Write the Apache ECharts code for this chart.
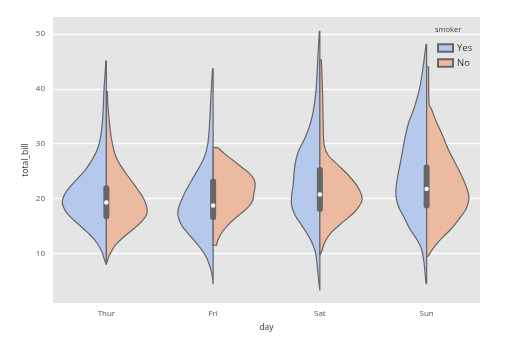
<!DOCTYPE html>
<html>
<head>
<meta charset="utf-8">
<script src="https://cdn.jsdelivr.net/npm/echarts@6/dist/echarts.min.js"></script>
<style>html,body{margin:0;padding:0;background:#fff}#c{width:506px;height:350px}</style>
</head>
<body>
<div id="c"></div>
<script>
// ---- data ----
var days = ['Thur', 'Fri', 'Sat', 'Sun'];
var hues = ['Yes', 'No'];
var yTicks = [10, 20, 30, 40, 50];

// violin half profiles: [total_bill, density as fraction of category width], top to bottom
var thurYes = [[45.1,0.005],[43,0.011],[40,0.022],[37,0.028],[34,0.037],[31,0.056],[29,0.084],[27.5,0.122],[26,0.169],[25,0.206],[24,0.253],[23,0.300],[22,0.347],[21,0.384],[20,0.408],[19.2,0.412],[18.5,0.403],[17.5,0.375],[16.5,0.328],[15.5,0.272],[14.5,0.215],[13.5,0.159],[12.5,0.112],[11.5,0.075],[10.5,0.047],[9.5,0.028],[8.5,0.011],[8.0,0]];
var thurNo = [[39.5,0.009],[37,0.014],[34,0.028],[31,0.047],[27.9,0.084],[26.1,0.131],[24.3,0.194],[21.8,0.288],[20,0.349],[18.2,0.381],[17,0.375],[15.75,0.328],[14.5,0.256],[13,0.162],[11.5,0.084],[10.3,0.047],[9.4,0.022],[8.45,0.007],[8.2,0]];
var friYes = [[43.7,0.005],[39.2,0.019],[33.1,0.035],[30,0.050],[27.6,0.081],[25.8,0.128],[24,0.181],[22.1,0.237],[20.3,0.284],[18.5,0.321],[17.3,0.331],[16,0.316],[14.8,0.284],[13,0.206],[11.2,0.128],[9.4,0.066],[7.5,0.028],[6,0.009],[4.5,0]];
var friNo = [[29.3,0.044],[28.2,0.106],[27,0.185],[25.8,0.262],[24.6,0.340],[23.35,0.387],[22.1,0.393],[20.9,0.381],[19.7,0.372],[18.5,0.331],[17.3,0.262],[16.05,0.185],[14.8,0.122],[13.6,0.075],[12.4,0.044],[11.5,0.031]];
var satYes = [[50.5,0.005],[45.6,0.019],[39.5,0.037],[35.8,0.063],[33.4,0.094],[31,0.141],[28.5,0.203],[26.7,0.228],[24.9,0.241],[22.5,0.250],[20.6,0.265],[18.8,0.265],[17,0.234],[15.15,0.171],[13.3,0.110],[11.5,0.063],[9.7,0.037],[7.2,0.022],[5,0.011],[3.3,0]];
var satNo = [[45.3,0.014],[39.5,0.025],[33.4,0.031],[29.7,0.040],[27.9,0.078],[26.1,0.171],[24.3,0.265],[22.45,0.344],[20.6,0.391],[19.4,0.391],[17.6,0.328],[15.75,0.218],[13.9,0.110],[12.1,0.047],[10.3,0.016],[9.7,0]];
var sunYes = [[48.1,0.005],[43.7,0.035],[40.1,0.066],[36.4,0.119],[34,0.166],[31.6,0.197],[29.1,0.222],[26.7,0.244],[24.3,0.269],[21.8,0.287],[20,0.284],[18.2,0.256],[16.4,0.206],[14.5,0.159],[12.7,0.096],[10.9,0.050],[8.45,0.025],[4.8,0.007],[4.6,0]];
var sunNo = [[44,0.019],[37.6,0.022],[36.4,0.044],[34,0.091],[31.6,0.147],[29.1,0.200],[26.7,0.262],[24.3,0.325],[21.8,0.378],[20,0.396],[18.2,0.372],[16.4,0.309],[14.5,0.231],[12.7,0.138],[10.9,0.059],[9.7,0.022],[9.4,0]];

// inner box statistics per day
var q1 = [16.24, 16.06, 17.57, 18.19];
var medians = [19.29, 18.74, 20.75, 21.77];
var q3 = [22.44, 23.67, 25.78, 26.22];

var profiles = {
  Yes: [thurYes, friYes, satYes, sunYes],
  No: [thurNo, friNo, satNo, sunNo]
};

// ---- styles ----
var FONT = 'Open Sans';
var colors = { Yes: '#b4c9ec', No: '#ecb9a1' };
var EDGE = '#666666';

function f(n) { return n.toFixed(2); }

// smooth path through outer points (Catmull-Rom -> cubic Bezier), closed along the centre line
function violinPath(pts, top, bottom) {
  var d = 'M' + f(top[0]) + ',' + f(top[1]) + 'L' + f(pts[0][0]) + ',' + f(pts[0][1]);
  var n = pts.length;
  for (var k = 0; k < n - 1; k++) {
    var p0 = pts[k > 0 ? k - 1 : k], p1 = pts[k], p2 = pts[k + 1], p3 = pts[k + 2 < n ? k + 2 : k + 1];
    var t = 1 / 6;
    var c1x = p1[0] + (p2[0] - p0[0]) * t, c1y = p1[1] + (p2[1] - p0[1]) * t;
    var c2x = p2[0] - (p3[0] - p1[0]) * t, c2y = p2[1] - (p3[1] - p1[1]) * t;
    d += 'C' + f(c1x) + ',' + f(c1y) + ' ' + f(c2x) + ',' + f(c2y) + ' ' + f(p2[0]) + ',' + f(p2[1]);
  }
  d += 'L' + f(bottom[0]) + ',' + f(bottom[1]) + 'Z';
  return d;
}

function violinSeries(hue, side) {
  return {
    type: 'custom',
    name: hue,
    itemStyle: { color: colors[hue], borderColor: EDGE, borderWidth: 0.7 },
    data: days.map(function (d, i) { return [i, medians[i]]; }),
    z: 2,
    renderItem: function (params, api) {
      var i = api.value(0);
      var prof = profiles[hue][i];
      var bw = api.size([1, 0])[0];
      var top = api.coord([i, prof[0][0]]);
      var bottom = api.coord([i, prof[prof.length - 1][0]]);
      var pts = prof.map(function (p) {
        var c = api.coord([i, p[0]]);
        return [c[0] + side * p[1] * bw, c[1]];
      });
      return {
        type: 'path',
        shape: { pathData: violinPath(pts, top, bottom) },
        style: { fill: colors[hue], stroke: EDGE, lineWidth: 1.2, lineJoin: 'round' }
      };
    }
  };
}

var boxSeries = {
  type: 'custom',
  name: 'box',
  data: days.map(function (d, i) { return [i, medians[i]]; }),
  z: 5,
  renderItem: function (params, api) {
    var i = api.value(0);
    var a = api.coord([i, q3[i]]);
    var b = api.coord([i, q1[i]]);
    var m = api.coord([i, medians[i]]);
    return {
      type: 'group',
      children: [
        { type: 'rect', shape: { x: a[0] - 3, y: a[1], width: 6, height: b[1] - a[1], r: 3 }, style: { fill: EDGE } },
        { type: 'circle', shape: { cx: m[0], cy: m[1], r: 2.2 }, style: { fill: '#ffffff' } }
      ]
    };
  }
};

var chart = echarts.init(document.getElementById('c'), null, { renderer: 'canvas' });
chart.setOption({
  animation: false,
  backgroundColor: '#ffffff',
  textStyle: { fontFamily: FONT },
  grid: { left: 53, right: 26, top: 17, bottom: 47, show: true, backgroundColor: '#e5e5e5', borderWidth: 0 },
  xAxis: {
    type: 'category',
    data: days,
    name: 'day',
    nameLocation: 'middle',
    nameGap: 20,
    nameMoveOverlap: false,
    nameTextStyle: { fontSize: 8.5, color: '#333', fontFamily: FONT },
    axisLine: { show: false },
    axisTick: { show: false },
    axisLabel: { fontSize: 8, color: '#555', margin: 7, fontFamily: FONT },
    splitLine: { show: false }
  },
  yAxis: {
    type: 'value',
    min: 0.97,
    max: 53.1,
    name: 'total_bill',
    nameLocation: 'middle',
    nameGap: 23,
    nameMoveOverlap: false,
    nameTextStyle: { fontSize: 8.5, color: '#333', fontFamily: FONT },
    axisLine: { show: false },
    axisTick: { show: false, customValues: yTicks },
    axisLabel: { fontSize: 8, color: '#555', margin: 8, customValues: yTicks, fontFamily: FONT },
    splitLine: { show: true, lineStyle: { color: '#ffffff', width: 1.3 } }
  },
  legend: {
    data: hues,
    orient: 'vertical',
    left: 432,
    top: 38,
    itemWidth: 15,
    itemHeight: 7.5,
    itemGap: 5,
    icon: 'rect',
    textStyle: { fontSize: 9.5, color: '#333', fontFamily: FONT, padding: [0, 0, 0, -1] }
  },
  graphic: [
    { type: 'text', left: 435, top: 25.5, style: { text: 'smoker', fontSize: 7.5, fill: '#444', fontFamily: FONT } }
  ],
  series: [violinSeries('Yes', -1), violinSeries('No', 1), boxSeries]
});
</script>
</body>
</html>
